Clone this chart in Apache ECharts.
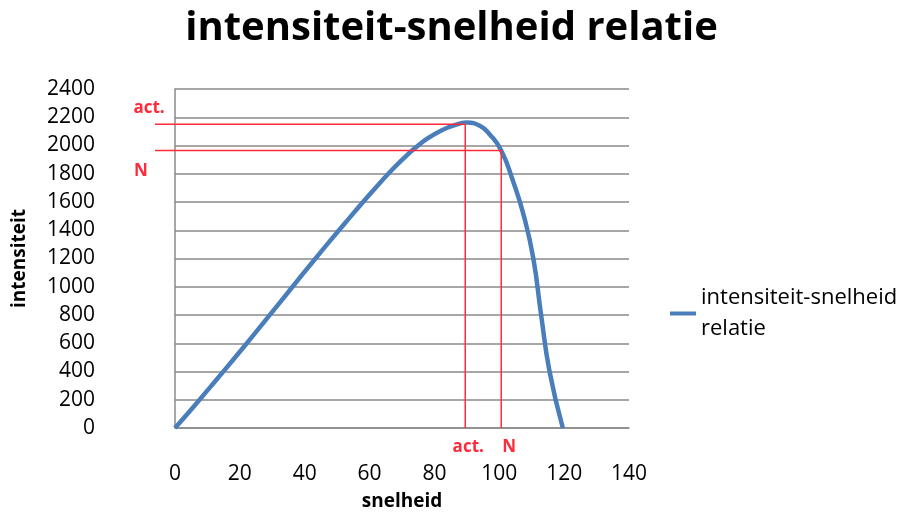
<!DOCTYPE html>
<html>
<head>
<meta charset="utf-8">
<script src="https://cdn.jsdelivr.net/npm/echarts@6/dist/echarts.min.js"></script>
<style>html,body{margin:0;padding:0;background:#fff}#c{width:903px;height:516px}</style>
</head>
<body>
<div id="c"></div>
<script>
var titleText = 'intensiteit-snelheid relatie';
var seriesName = 'intensiteit-snelheid relatie';
var xName = 'snelheid';
var yName = 'intensiteit';
// curve points: snelheid (x) and intensiteit (y)
var speed = [0, 6, 12, 18, 24, 30, 36, 42, 48, 54, 58, 62, 66, 70, 74, 78, 82, 86, 90, 94, 97, 100.6, 104.2, 107.6, 110.5, 112.9, 115.5, 119.6];
var intensity = [0, 158, 320, 485, 652, 822, 993, 1163, 1330, 1493, 1600, 1705, 1805, 1898, 1982, 2052, 2105, 2142, 2162, 2140, 2080, 1965, 1750, 1500, 1200, 800, 400, 0];
// reference markers
var markerNames = ['act.', 'N'];
var markerX = [89.5, 100.6];
var markerY = [2150, 1965];
var xMin = 0, xMax = 140, xStep = 20;
var yMin = 0, yMax = 2400, yStep = 200;

var FONT = 'Open Sans';
var RED = '#ff2b3b';
var chart = echarts.init(document.getElementById('c'), null, {renderer: 'canvas'});
var pts = speed.map(function (v, i) { return [v, intensity[i]]; });

chart.setOption({
  animation: false,
  backgroundColor: '#fff',
  textStyle: {fontFamily: FONT},
  title: {
    text: titleText, left: 'center', top: 4,
    textStyle: {fontFamily: FONT, fontWeight: 'bold', fontSize: 40, color: '#000'}
  },
  grid: {left: 175, right: 274, top: 89, bottom: 87, containLabel: false},
  legend: {
    left: 665, top: 262, orient: 'vertical',
    icon: 'rect', itemWidth: 26, itemHeight: 4, itemGap: 0,
    formatter: function (n) { return n.replace(' ', '\n'); },
    textStyle: {fontFamily: FONT, fontSize: 22, color: '#000', lineHeight: 31, padding: [31, 0, 0, 0]},
    data: [{name: seriesName, itemStyle: {color: '#4a7ebb'}}]
  },
  xAxis: {
    type: 'value', min: xMin, max: xMax, interval: xStep,
    name: xName, nameLocation: 'middle', nameGap: 64,
    nameTextStyle: {fontFamily: FONT, fontWeight: 'bold', fontSize: 19, color: '#000'},
    axisLine: {show: true, onZero: false, lineStyle: {color: '#8a8a8a', width: 1.5}},
    axisTick: {show: false},
    axisLabel: {fontFamily: FONT, fontSize: 21, color: '#000', margin: 36,
      formatter: function (v) { return String(v); }},
    splitLine: {show: false}
  },
  yAxis: {
    type: 'value', min: yMin, max: yMax, interval: yStep,
    name: yName, nameLocation: 'middle', nameGap: 146, nameRotate: 90,
    nameTextStyle: {fontFamily: FONT, fontWeight: 'bold', fontSize: 19, color: '#000'},
    axisLine: {show: true, lineStyle: {color: '#8a8a8a', width: 1.5}},
    axisTick: {show: false},
    axisLabel: {fontFamily: FONT, fontSize: 21, color: '#000', margin: 80,
      formatter: function (v) { return String(v); }},
    splitLine: {show: true, lineStyle: {color: '#8a8a8a', width: 1.5}}
  },
  series: [{
    name: seriesName, type: 'line', data: pts, smooth: 0.5,
    showSymbol: false, symbol: 'none',
    lineStyle: {color: '#4a7ebb', width: 4.5},
    itemStyle: {color: '#4a7ebb'}, z: 3
  }]
});

// red reference lines and labels, positioned through the chart's own scales
var g = [];
markerNames.forEach(function (nm, i) {
  var p = chart.convertToPixel({gridIndex: 0}, [markerX[i], markerY[i]]);
  var base = chart.convertToPixel({gridIndex: 0}, [markerX[i], yMin]);
  var axisX = chart.convertToPixel({gridIndex: 0}, [xMin, markerY[i]])[0];
  g.push({type: 'line', shape: {x1: axisX - 20, y1: p[1], x2: p[0], y2: p[1]},
    style: {stroke: RED, lineWidth: 1.5}, z: 10});
  g.push({type: 'line', shape: {x1: p[0], y1: p[1], x2: p[0], y2: base[1]},
    style: {stroke: RED, lineWidth: 1.5}, z: 10});
  // left label
  g.push({type: 'text', x: axisX - (i === 0 ? 26 : 34), y: p[1] + (i === 0 ? -16 : 21),
    style: {text: nm, fill: RED, font: 'bold 17px "' + FONT + '"', align: 'center', verticalAlign: 'middle'}, z: 10});
  // bottom label
  g.push({type: 'text', x: p[0] + (i === 0 ? 3 : 8), y: base[1] + 19,
    style: {text: nm, fill: RED, font: 'bold 17px "' + FONT + '"', align: 'center', verticalAlign: 'middle'}, z: 10});
});
chart.setOption({graphic: g});
</script>
</body>
</html>
